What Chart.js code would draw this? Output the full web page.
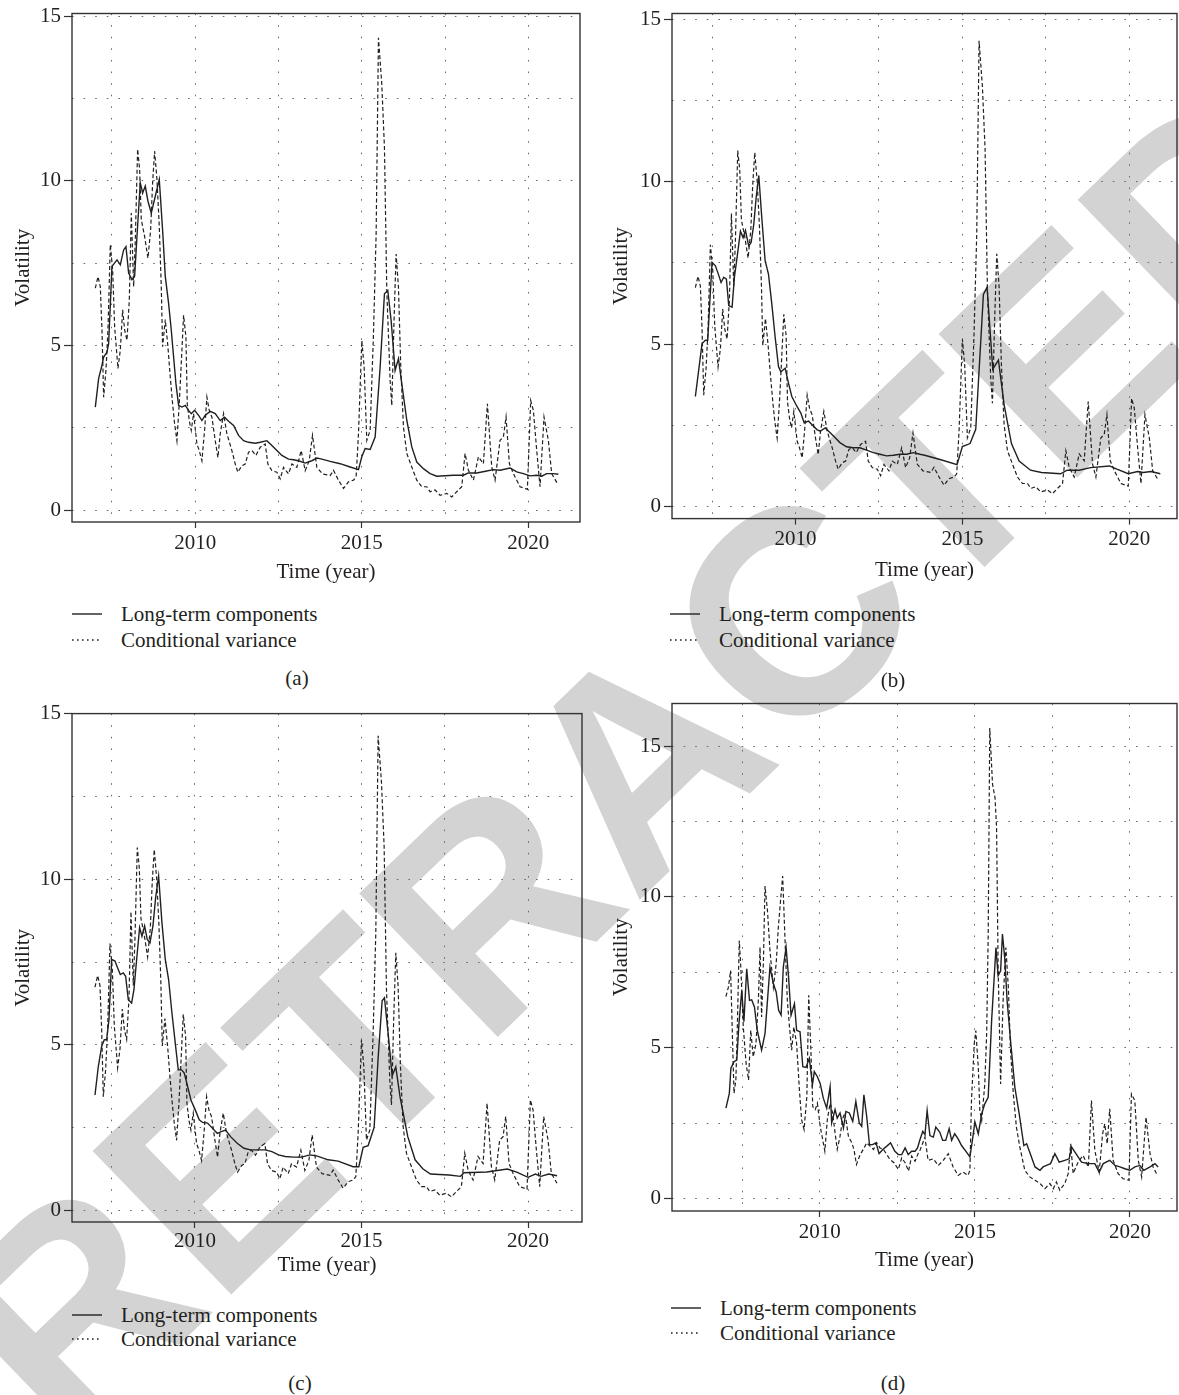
<!DOCTYPE html>
<html>
<head>
<meta charset="utf-8">
<script src="https://cdn.jsdelivr.net/npm/chart.js@4.4.0/dist/chart.umd.min.js"></script>
<style>
  body { margin: 0; background: #fff; }
  #page { position: relative; width: 1179px; height: 1395px; overflow: hidden;
          font-family: "Liberation Serif", "DejaVu Serif", serif; color: #231f20; }
  #wm { position: absolute; left: 640px; top: 760px; line-height: 1;
        transform: translate(-50%, -50%) rotate(-44deg);
        font: bold 290px "Liberation Sans", Arial, sans-serif; color: #d3d3d3;
        white-space: nowrap; z-index: 0; }
  canvas { position: absolute; z-index: 1; }
  .leg { position: absolute; z-index: 1; font-size: 21px; height: 24px; line-height: 24px;
         display: flex; align-items: center; white-space: nowrap; }
  .leg svg { margin-right: 19px; }
  .cap { position: absolute; z-index: 1; font-size: 21px; line-height: 24px;
         transform: translateX(-50%); }
</style>
</head>
<body>
<div id="page">
  <div id="wm">RETRACTED</div>
  <canvas id="ca" width="590" height="600" style="left:0;top:0"></canvas>
  <canvas id="cb" width="589" height="600" style="left:590px;top:0"></canvas>
  <canvas id="cc" width="590" height="600" style="left:0;top:700px"></canvas>
  <canvas id="cd" width="589" height="600" style="left:590px;top:690px"></canvas>
  <div id="legends"></div>
</div>
<script>
// tick values shared by every panel
const xTickVals = [2007.5, 2010, 2012.5, 2015, 2017.5, 2020];
const yTickVals = [0, 2.5, 5, 7.5, 10, 12.5, 15];
const legendLabels = ['Long-term components', 'Conditional variance'];

// conditional variance, read from (a); (b) and (c) show the same curve
const condVarABC = [
  [2007.00,6.74],[2007.08,7.09],[2007.15,6.79],[2007.20,5.47],[2007.25,3.43],[2007.32,4.25],[2007.38,5.47],
  [2007.45,8.06],[2007.52,7.30],[2007.58,5.57],[2007.68,4.30],[2007.75,4.86],[2007.82,6.08],[2007.88,5.47],
  [2007.95,5.16],[2008.02,6.38],[2008.08,9.02],[2008.15,6.79],[2008.20,8.20],[2008.27,10.96],[2008.33,10.35],
  [2008.38,8.82],[2008.48,8.31],[2008.58,7.65],[2008.66,8.50],[2008.72,9.94],[2008.78,10.90],[2008.85,10.04],
  [2008.92,8.62],[2008.98,6.79],[2009.02,4.96],[2009.10,5.79],[2009.18,4.96],[2009.25,4.04],[2009.32,3.23],
  [2009.38,2.62],[2009.45,2.11],[2009.52,3.23],[2009.58,4.45],[2009.65,5.92],[2009.72,5.26],[2009.76,3.23],
  [2009.82,2.72],[2009.88,2.42],[2009.95,2.93],[2010.05,2.01],[2010.12,1.81],[2010.20,1.50],[2010.28,2.42],
  [2010.35,3.43],[2010.42,3.03],[2010.50,2.82],[2010.60,2.11],[2010.68,1.60],[2010.75,2.32],[2010.85,2.93],
  [2010.95,2.32],[2011.10,1.81],[2011.20,1.40],[2011.28,1.15],[2011.40,1.35],[2011.50,1.40],[2011.60,1.76],
  [2011.70,1.81],[2011.82,1.66],[2011.95,1.91],[2012.10,2.01],[2012.18,1.40],[2012.30,1.20],[2012.45,1.15],
  [2012.55,0.95],[2012.65,1.30],[2012.80,1.10],[2012.90,1.40],[2013.05,1.30],[2013.18,1.81],[2013.30,1.20],
  [2013.42,1.50],[2013.52,2.27],[2013.65,1.30],[2013.82,1.10],[2014.05,1.05],[2014.15,1.21],[2014.30,0.91],
  [2014.45,0.66],[2014.60,0.86],[2014.75,0.91],[2014.83,1.01],[2014.90,2.32],[2015.00,5.15],[2015.07,4.34],
  [2015.15,2.12],[2015.25,2.42],[2015.35,5.35],[2015.43,8.38],[2015.50,14.34],[2015.60,12.93],[2015.68,11.00],
  [2015.75,6.67],[2015.85,3.94],[2015.90,3.18],[2015.97,5.86],[2016.03,7.78],[2016.10,6.77],[2016.17,4.34],
  [2016.25,2.53],[2016.35,1.72],[2016.50,1.31],[2016.65,0.91],[2016.80,0.71],[2016.95,0.71],[2017.05,0.56],
  [2017.20,0.61],[2017.35,0.45],[2017.55,0.51],[2017.70,0.40],[2017.85,0.56],[2018.00,0.71],[2018.10,1.72],
  [2018.20,1.21],[2018.35,0.91],[2018.50,1.62],[2018.65,1.41],[2018.77,3.23],[2018.90,1.31],[2019.00,0.91],
  [2019.15,2.12],[2019.25,2.22],[2019.33,2.83],[2019.43,1.41],[2019.55,1.11],[2019.75,0.71],[2019.97,0.63],
  [2020.07,3.33],[2020.15,3.03],[2020.25,1.82],[2020.35,0.71],[2020.47,2.83],[2020.60,2.12],[2020.70,1.11],
  [2020.87,0.81]
];

const solidA = [
  [2007.00,3.13],[2007.10,4.00],[2007.20,4.40],[2007.25,4.65],[2007.35,4.80],[2007.40,5.06],[2007.50,7.40],
  [2007.65,7.60],[2007.75,7.45],[2007.85,7.90],[2007.92,8.00],[2008.00,7.20],[2008.10,7.00],[2008.18,7.10],
  [2008.25,8.30],[2008.35,9.94],[2008.42,9.63],[2008.50,9.84],[2008.58,9.38],[2008.68,9.02],[2008.80,9.53],
  [2008.92,10.04],[2009.02,8.50],[2009.10,7.10],[2009.20,6.28],[2009.28,5.47],[2009.35,4.65],[2009.42,3.84],
  [2009.50,3.18],[2009.60,3.13],[2009.70,3.18],[2009.80,3.03],[2009.88,2.93],[2009.98,3.03],[2010.10,2.88],
  [2010.20,2.72],[2010.30,2.88],[2010.45,3.00],[2010.60,2.93],[2010.75,2.72],[2010.88,2.82],[2011.00,2.70],
  [2011.15,2.57],[2011.30,2.27],[2011.45,2.11],[2011.60,2.06],[2011.80,2.03],[2011.95,2.06],[2012.15,2.11],
  [2012.30,1.96],[2012.45,1.81],[2012.60,1.66],[2012.80,1.55],[2012.95,1.53],[2013.10,1.50],[2013.30,1.43],
  [2013.50,1.50],[2013.65,1.58],[2013.80,1.55],[2014.05,1.48],[2014.35,1.41],[2014.65,1.31],[2014.90,1.23],
  [2015.00,1.62],[2015.10,1.87],[2015.25,1.84],[2015.40,2.22],[2015.55,4.34],[2015.68,6.57],[2015.78,6.67],
  [2015.88,5.76],[2016.00,4.24],[2016.10,4.60],[2016.20,3.84],[2016.35,2.73],[2016.50,1.92],[2016.65,1.46],
  [2016.85,1.26],[2017.05,1.11],[2017.25,1.03],[2017.75,1.06],[2018.05,1.06],[2018.20,1.13],[2018.45,1.13],
  [2018.75,1.19],[2018.95,1.23],[2019.15,1.21],[2019.45,1.28],[2019.65,1.16],[2019.85,1.11],[2020.05,1.04],
  [2020.25,1.06],[2020.40,1.03],[2020.55,1.11],[2020.75,1.11],[2020.90,1.09]
];

const solidB = [
  [2007.00,3.39],[2007.10,4.20],[2007.20,5.02],[2007.30,5.12],[2007.37,5.12],[2007.43,6.24],[2007.50,7.52],
  [2007.60,7.41],[2007.67,7.21],[2007.77,6.90],[2007.85,7.06],[2007.93,7.00],[2008.00,6.19],[2008.10,6.14],
  [2008.17,7.06],[2008.25,7.67],[2008.35,8.48],[2008.43,8.28],[2008.50,8.50],[2008.60,8.02],[2008.67,8.13],
  [2008.75,8.69],[2008.82,9.50],[2008.90,10.19],[2008.99,8.89],[2009.09,7.57],[2009.19,7.16],[2009.29,6.24],
  [2009.39,5.22],[2009.49,4.31],[2009.56,4.15],[2009.69,4.26],[2009.79,3.80],[2009.89,3.39],[2010.04,3.09],
  [2010.16,2.88],[2010.26,2.58],[2010.39,2.63],[2010.49,2.53],[2010.64,2.37],[2010.74,2.32],[2010.89,2.42],
  [2011.04,2.27],[2011.19,2.12],[2011.33,1.97],[2011.53,1.84],[2011.73,1.81],[2011.93,1.81],[2012.13,1.74],
  [2012.33,1.66],[2012.53,1.61],[2012.73,1.56],[2012.93,1.58],[2013.13,1.61],[2013.33,1.61],[2013.53,1.66],
  [2013.73,1.61],[2013.87,1.58],[2014.33,1.45],[2014.84,1.29],[2015.00,1.85],[2015.23,1.94],[2015.40,2.38],
  [2015.63,6.53],[2015.74,6.75],[2015.91,4.23],[2016.08,4.51],[2016.25,3.14],[2016.47,1.94],[2016.70,1.40],
  [2017.04,1.12],[2017.37,1.05],[2017.94,1.01],[2018.14,1.12],[2018.50,1.12],[2018.84,1.20],[2019.41,1.25],
  [2019.63,1.15],[2019.97,1.01],[2020.25,1.08],[2020.42,1.05],[2020.65,1.08],[2020.93,1.01]
];

const solidC = [
  [2007.00,3.48],[2007.10,4.34],[2007.20,4.95],[2007.28,5.15],[2007.35,5.15],[2007.42,5.76],[2007.50,7.58],
  [2007.60,7.53],[2007.68,7.32],[2007.76,7.12],[2007.85,7.17],[2007.92,7.07],[2008.00,6.36],[2008.10,6.26],
  [2008.17,6.67],[2008.26,7.68],[2008.34,8.54],[2008.41,8.28],[2008.49,8.59],[2008.57,8.18],[2008.65,8.08],
  [2008.74,8.59],[2008.82,9.44],[2008.91,10.10],[2009.01,8.69],[2009.11,7.58],[2009.21,6.97],[2009.31,5.96],
  [2009.41,5.05],[2009.50,4.24],[2009.60,4.24],[2009.68,4.14],[2009.78,3.74],[2009.88,3.33],[2010.01,3.03],
  [2010.13,2.73],[2010.23,2.65],[2010.38,2.63],[2010.53,2.47],[2010.67,2.32],[2010.79,2.37],[2010.92,2.42],
  [2011.07,2.22],[2011.27,2.02],[2011.47,1.87],[2011.67,1.82],[2011.87,1.82],[2012.11,1.82],[2012.31,1.77],
  [2012.51,1.67],[2012.71,1.62],[2012.96,1.60],[2013.20,1.60],[2013.45,1.67],[2013.65,1.64],[2014.00,1.52],
  [2014.30,1.48],[2014.75,1.31],[2014.92,1.31],[2015.05,1.90],[2015.20,1.95],[2015.38,2.50],[2015.50,4.60],
  [2015.62,6.33],[2015.69,6.42],[2015.82,5.14],[2015.92,4.06],[2016.03,4.33],[2016.16,3.41],[2016.39,2.22],
  [2016.61,1.52],[2016.84,1.25],[2017.07,1.09],[2017.63,1.06],[2017.97,1.02],[2018.08,1.13],[2018.76,1.15],
  [2019.38,1.24],[2019.66,1.15],[2020.00,0.99],[2020.22,1.09],[2020.39,1.02],[2020.62,1.09],[2020.87,1.04]
];

const solidD = [
  [2006.97,3.00],[2007.08,3.49],[2007.13,4.32],[2007.23,4.54],[2007.32,4.59],[2007.39,5.80],[2007.48,6.90],
  [2007.55,5.86],[2007.64,7.62],[2007.73,6.57],[2007.80,6.59],[2007.89,6.35],[2007.98,5.58],[2008.12,4.92],
  [2008.23,5.47],[2008.31,6.57],[2008.39,7.67],[2008.50,7.12],[2008.59,6.85],[2008.67,6.24],[2008.75,6.08],
  [2008.82,7.67],[2008.91,8.33],[2008.99,7.34],[2009.07,6.08],[2009.18,6.46],[2009.25,5.58],[2009.36,5.53],
  [2009.45,4.37],[2009.55,4.35],[2009.66,4.65],[2009.76,3.77],[2009.82,4.21],[2009.92,4.04],[2010.01,3.82],
  [2010.11,3.33],[2010.22,3.00],[2010.33,3.71],[2010.38,2.51],[2010.49,2.95],[2010.56,2.67],[2010.65,2.84],
  [2010.76,2.34],[2010.84,2.89],[2010.95,2.84],[2011.06,2.56],[2011.16,3.22],[2011.27,2.51],[2011.35,2.40],
  [2011.42,3.44],[2011.51,2.73],[2011.60,1.79],[2011.70,1.79],[2011.81,1.85],[2011.91,1.49],[2012.03,1.63],
  [2012.16,1.74],[2012.28,1.85],[2012.42,1.57],[2012.53,1.46],[2012.64,1.46],[2012.75,1.68],[2012.85,1.46],
  [2012.96,1.57],[2013.07,1.57],[2013.15,1.68],[2013.23,1.96],[2013.32,2.23],[2013.39,2.12],[2013.46,2.92],
  [2013.55,2.09],[2013.66,2.04],[2013.74,2.37],[2013.87,2.20],[2013.96,1.93],[2014.06,1.93],[2014.17,2.32],
  [2014.25,1.93],[2014.35,2.15],[2014.46,1.98],[2014.57,1.76],[2014.73,1.54],[2014.84,1.38],[2014.92,1.93],
  [2015.00,2.54],[2015.11,2.15],[2015.22,2.81],[2015.32,3.14],[2015.43,3.36],[2015.54,5.90],[2015.68,8.32],
  [2015.75,7.39],[2015.83,7.55],[2015.89,8.77],[2015.97,7.88],[2016.04,6.56],[2016.15,5.24],[2016.29,3.69],
  [2016.43,2.81],[2016.58,1.76],[2016.67,1.82],[2016.77,1.54],[2016.94,1.05],[2017.10,0.94],[2017.20,1.05],
  [2017.31,1.10],[2017.44,1.16],[2017.58,1.49],[2017.72,1.21],[2017.90,1.27],[2018.04,1.32],[2018.12,1.71],
  [2018.26,1.49],[2018.44,1.21],[2018.66,1.16],[2018.87,1.16],[2019.01,0.88],[2019.14,1.16],[2019.35,1.27],
  [2019.52,1.10],[2019.68,1.05],[2019.84,0.99],[2020.00,0.94],[2020.16,1.05],[2020.32,1.10],[2020.45,0.94],
  [2020.65,1.05],[2020.81,1.16],[2020.91,1.05]
];

const condVarD = [
  [2006.97,6.70],[2007.05,7.01],[2007.12,7.56],[2007.18,5.36],[2007.23,3.49],[2007.29,3.93],[2007.33,5.36],
  [2007.40,8.55],[2007.45,7.67],[2007.53,5.69],[2007.62,4.48],[2007.70,3.93],[2007.77,5.58],[2007.85,4.70],
  [2007.94,5.14],[2008.02,6.68],[2008.07,8.33],[2008.12,6.02],[2008.18,7.89],[2008.23,10.36],[2008.31,9.54],
  [2008.39,8.22],[2008.50,7.01],[2008.59,7.78],[2008.66,8.99],[2008.74,9.98],[2008.80,10.69],[2008.88,8.46],
  [2008.95,6.57],[2009.02,5.69],[2009.09,4.92],[2009.16,5.69],[2009.25,5.14],[2009.34,3.60],[2009.41,2.62],
  [2009.49,2.29],[2009.58,3.38],[2009.64,6.74],[2009.71,4.92],[2009.77,3.05],[2009.85,2.95],[2009.92,3.16],
  [2010.01,2.40],[2010.09,1.96],[2010.16,1.57],[2010.24,2.62],[2010.33,3.16],[2010.41,2.84],[2010.49,2.18],
  [2010.56,1.63],[2010.65,2.07],[2010.74,2.67],[2010.81,2.84],[2010.92,2.07],[2011.03,1.85],[2011.10,1.63],
  [2011.18,1.13],[2011.30,1.46],[2011.40,1.63],[2011.51,1.85],[2011.62,1.74],[2011.73,1.63],[2011.83,1.85],
  [2011.94,1.68],[2012.05,1.63],[2012.16,1.46],[2012.26,1.30],[2012.39,1.19],[2012.53,0.97],[2012.64,1.35],
  [2012.75,1.19],[2012.86,0.91],[2012.96,1.41],[2013.07,1.24],[2013.18,1.52],[2013.23,1.60],[2013.39,2.04],
  [2013.49,1.27],[2013.66,1.32],[2013.82,1.10],[2013.98,1.27],[2014.14,1.49],[2014.30,1.05],[2014.46,0.77],
  [2014.62,0.88],[2014.78,0.77],[2014.84,0.94],[2014.89,3.25],[2014.98,5.13],[2015.03,5.57],[2015.11,4.36],
  [2015.16,2.92],[2015.22,2.59],[2015.32,3.80],[2015.38,5.46],[2015.43,8.77],[2015.48,15.60],[2015.57,13.73],
  [2015.65,13.29],[2015.70,12.29],[2015.75,7.66],[2015.83,3.80],[2015.91,6.56],[2016.00,8.32],[2016.08,7.00],
  [2016.15,4.91],[2016.24,3.47],[2016.34,2.37],[2016.45,1.71],[2016.61,0.94],[2016.77,0.72],[2016.94,0.61],
  [2017.10,0.50],[2017.26,0.33],[2017.42,0.50],[2017.53,0.33],[2017.63,0.55],[2017.74,0.28],[2017.90,0.50],
  [2018.01,0.83],[2018.09,1.82],[2018.17,0.83],[2018.33,1.21],[2018.49,1.43],[2018.66,1.05],[2018.76,3.25],
  [2018.87,1.60],[2019.01,0.88],[2019.12,2.15],[2019.19,2.48],[2019.27,1.82],[2019.35,2.98],[2019.46,1.27],
  [2019.62,0.83],[2019.78,0.66],[2019.97,0.61],[2020.05,3.47],[2020.16,3.25],[2020.27,1.27],[2020.38,0.72],
  [2020.52,2.70],[2020.65,1.49],[2020.75,1.05],[2020.86,0.83]
];

const FONT = '"Liberation Serif", "DejaVu Serif", serif';
const INK = '#231f20';

const framePlugin = {
  id: 'frame',
  afterDraw(chart) {
    const { ctx, chartArea: a } = chart;
    ctx.save();
    ctx.strokeStyle = '#333';
    ctx.lineWidth = 1.4;
    ctx.strokeRect(a.left, a.top, a.right - a.left, a.bottom - a.top);
    ctx.restore();
  }
};

const panels = [
  { id: 'ca', solid: solidA, dashed: condVarABC, xMin: 2006.30, xMax: 2021.55, yMin: -0.36, yMax: 15.08,
    box: { l: 72, t: 13, r: 580, b: 522 }, titleY: 572, xPad: 5, yTitlePad: 11 },
  { id: 'cb', solid: solidB, dashed: condVarABC, xMin: 2006.30, xMax: 2021.43, yMin: -0.37, yMax: 15.18,
    box: { l: 82, t: 10, r: 587, b: 518.6 }, titleY: 570, xPad: 4.5, yTitlePad: 19 },
  { id: 'cc', solid: solidC, dashed: condVarABC, xMin: 2006.31, xMax: 2021.62, yMin: -0.36, yMax: 15.01,
    box: { l: 72, t: 13.6, r: 582, b: 522 }, titleY: 565, xPad: 3, yTitlePad: 11 },
  { id: 'cd', solid: solidD, dashed: condVarD, xMin: 2005.23, xMax: 2021.52, yMin: -0.41, yMax: 16.41,
    box: { l: 82, t: 13, r: 587, b: 521 }, titleY: 570, xPad: 4.5, yTitlePad: 19 }
];

function toXY(arr) {
  return arr.map(p => ({ x: p[0], y: p[1] }));
}

function makePanel(p) {
  const canvas = document.getElementById(p.id);
  const W = canvas.width, H = canvas.height;
  new Chart(canvas, {
    type: 'line',
    data: {
      datasets: [
        { label: legendLabels[0], data: toXY(p.solid), borderColor: INK, borderWidth: 1.4,
          pointRadius: 0, tension: 0, fill: false },
        { label: legendLabels[1], data: toXY(p.dashed), borderColor: INK, borderWidth: 1.2,
          borderDash: [4, 2.5], pointRadius: 0, tension: 0, fill: false }
      ]
    },
    options: {
      responsive: false,
      maintainAspectRatio: false,
      animation: false,
      devicePixelRatio: 1,
      layout: { padding: { left: 0, top: p.box.t, right: W - p.box.r, bottom: 0 } },
      plugins: { legend: { display: false }, tooltip: { enabled: false } },
      scales: {
        x: {
          type: 'linear', min: p.xMin, max: p.xMax,
          afterBuildTicks: s => { s.ticks = xTickVals.map(v => ({ value: v })); },
          afterFit: s => { s.height = H - p.box.b; },
          ticks: { callback: v => (v % 5 === 0 ? String(v) : ''), autoSkip: false, maxRotation: 0,
                   padding: p.xPad, color: INK, font: { family: FONT, size: 21, lineHeight: 1 } },
          grid: { color: '#6a6a6a', lineWidth: 1, tickLength: 6, tickWidth: 1.2, tickBorderDash: [],
                  tickColor: c => (c.tick && c.tick.value % 5 === 0 ? '#333' : 'rgba(0,0,0,0)') },
          border: { display: false, dash: [1.6, 10] },
          title: { display: true, text: 'Time (year)', color: INK, font: { family: FONT, size: 21 },
                   padding: { top: 0, bottom: H - p.titleY - 12.6 } }
        },
        y: {
          type: 'linear', min: p.yMin, max: p.yMax,
          afterBuildTicks: s => { s.ticks = yTickVals.map(v => ({ value: v })); },
          afterFit: s => { s.width = p.box.l; },
          ticks: { callback: v => (v % 5 === 0 ? String(v) : ''), padding: 3, color: INK,
                   font: { family: FONT, size: 21, lineHeight: 1 } },
          grid: { color: '#6a6a6a', lineWidth: 1, tickLength: 8, tickWidth: 1.2, tickBorderDash: [],
                  tickColor: c => (c.tick && c.tick.value % 5 === 0 ? '#333' : 'rgba(0,0,0,0)') },
          border: { display: false, dash: [1.6, 10] },
          title: { display: true, text: 'Volatility', color: INK, font: { family: FONT, size: 21 },
                   padding: { top: p.yTitlePad, bottom: 0 } }
        }
      }
    },
    plugins: [framePlugin]
  });
}

panels.forEach(makePanel);

// legends and sub-captions, page coordinates
const legendPos = [
  { x: 72, y1: 614, y2: 640, cap: '(a)', cx: 297, cy: 678 },
  { x: 670, y1: 614, y2: 640, cap: '(b)', cx: 893, cy: 680 },
  { x: 72, y1: 1315, y2: 1339, cap: '(c)', cx: 300, cy: 1383 },
  { x: 671, y1: 1308, y2: 1333, cap: '(d)', cx: 893, cy: 1383 }
];

const holder = document.getElementById('legends');
legendPos.forEach(l => {
  const rows = [
    { y: l.y1, text: legendLabels[0], dash: '' },
    { y: l.y2, text: legendLabels[1], dash: 'stroke-dasharray="1.6 3.4"' }
  ];
  rows.forEach(r => {
    const d = document.createElement('div');
    d.className = 'leg';
    d.style.left = l.x + 'px';
    d.style.top = (r.y - 12) + 'px';
    d.innerHTML = '<svg width="30" height="6"><line x1="0" y1="3" x2="30" y2="3" stroke="' + INK +
      '" stroke-width="1.4" ' + r.dash + '/></svg>' + r.text;
    holder.appendChild(d);
  });
  const c = document.createElement('div');
  c.className = 'cap';
  c.style.left = l.cx + 'px';
  c.style.top = (l.cy - 12) + 'px';
  c.textContent = l.cap;
  holder.appendChild(c);
});
</script>
</body>
</html>
